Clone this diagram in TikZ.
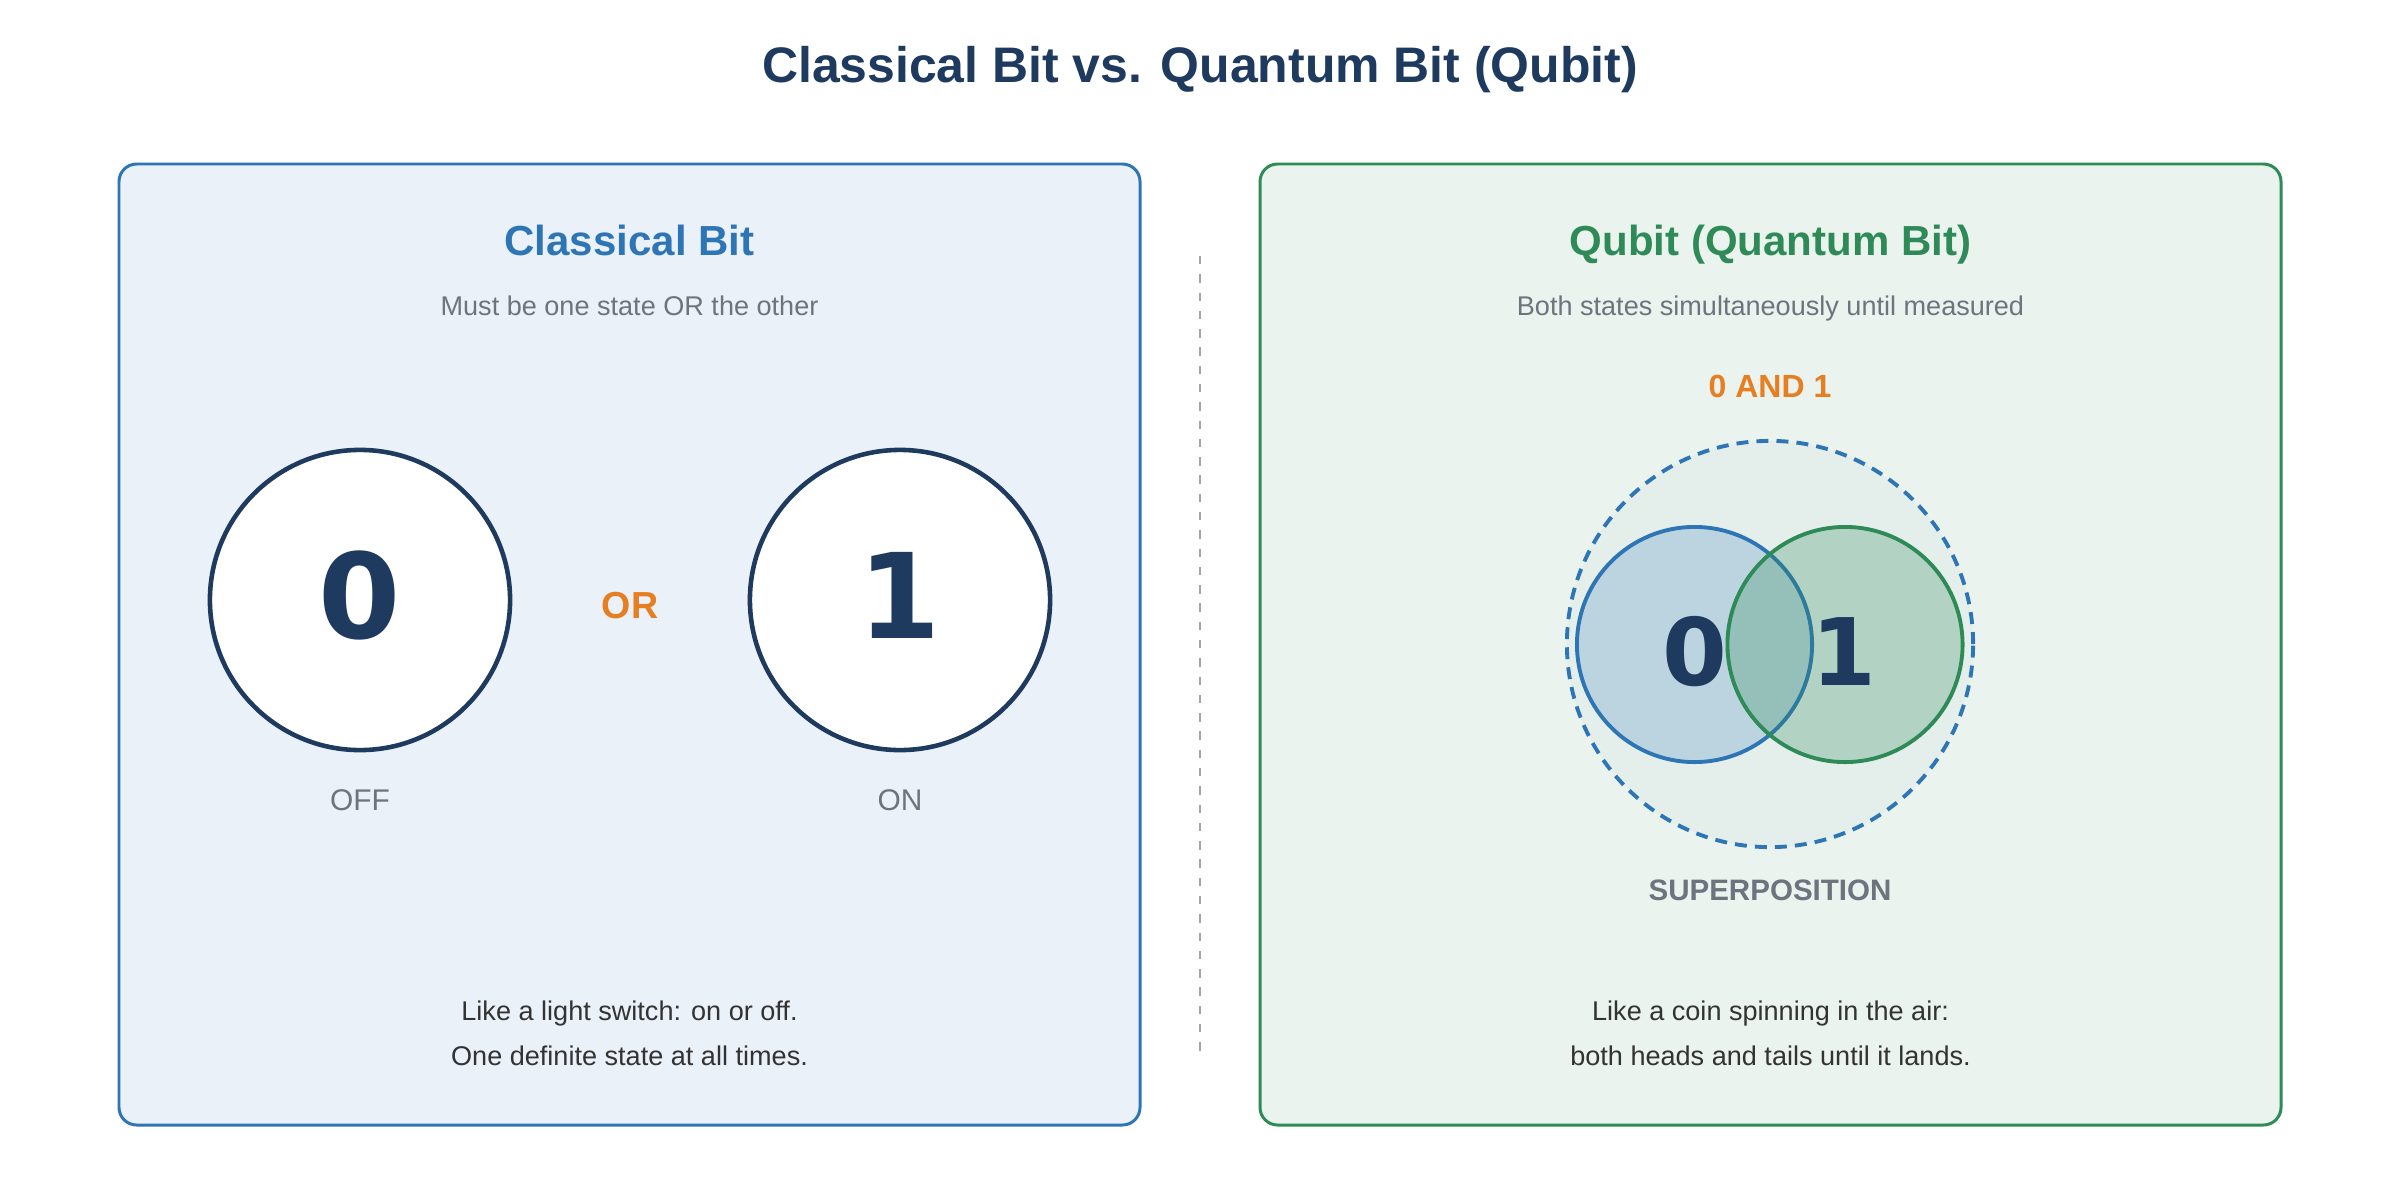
\documentclass[tikz,border=0pt]{standalone}
\usepackage{fontspec}
\setmainfont{Liberation Sans}
\newfontfamily\digitfont{DejaVu Sans}

\definecolor{navy}{RGB}{30,58,95}
\definecolor{cblue}{RGB}{46,117,182}
\definecolor{cgreen}{RGB}{46,139,87}
\definecolor{corange}{RGB}{230,126,34}
\definecolor{cgray}{RGB}{108,117,125}
\definecolor{ctext}{RGB}{51,51,51}
\definecolor{divgray}{RGB}{160,164,171}

\tikzset{
  txt/.style={inner sep=0pt, anchor=base},
  maintitle/.style={txt, font=\fontsize{14.2}{17}\selectfont\bfseries, text=navy},
  paneltitle/.style={txt, font=\fontsize{11.95}{14}\selectfont\bfseries, text=#1},
  subtext/.style={txt, font=\fontsize{7.7}{9}\selectfont, text=cgray},
  statetext/.style={txt, font=\fontsize{8.5}{10}\selectfont, text=cgray},
  notetext/.style={txt, font=\fontsize{7.7}{9}\selectfont, text=ctext},
  keyword/.style={txt, font=\fontsize{#1}{12}\selectfont\bfseries, text=corange},
  bigdigit/.style={txt, font=\digitfont\fontsize{#1}{40}\selectfont\bfseries, text=navy},
  panel/.style={draw=#1, fill=#1!10, line width=0.85pt, rounded corners=5pt},
  bitcircle/.style={circle, draw=navy, fill=white, line width=1.3pt, minimum size=3cm, inner sep=0pt},
  statecircle/.style n args={2}{circle, draw=#1, fill=#1, fill opacity=#2, draw opacity=1, line width=1.1pt, minimum size=2.35cm, inner sep=0pt}
}

\begin{document}
\begin{tikzpicture}[x=0.01cm, y=-0.01cm]
  \useasboundingbox (0,0) rectangle (2400,1200);

  % Title
  \node[maintitle] (title) at (1200,82) {Classical Bit vs. Quantum Bit (Qubit)};

  % Panels
  \draw[panel=cblue] (119,164) rectangle (1140,1125);
  \draw[panel=cgreen] (1260,164) rectangle (2281,1125);

  % Divider
  \coordinate (divtop) at (1200,256);
  \coordinate (divbot) at (1200,1056);
  \draw[divgray, line width=0.6pt, dash pattern=on 2.4pt off 2.8pt] (divtop) -- (divbot);

  % Classical bit
  \node[paneltitle=cblue] (classtitle) at (629.5,255) {Classical Bit};
  \node[subtext] (classsub) at (629.5,315) {Must be one state OR the other};

  \node[bitcircle] (bitzero) at (360,600) {};
  \node[bitcircle] (bitone) at (900,600) {};
  \node[bigdigit=33.6] (zerodigit) at (360,638) {0};
  \node[bigdigit=33.6] (onedigit) at (900,638) {1};
  \node[keyword=10.7] (orlabel) at (630,618) {OR};

  \node[statetext] (offlabel) at (360,810) {OFF};
  \node[statetext] (onlabel) at (900,810) {ON};

  \node[notetext] (classnote1) at (629.5,1020) {Like a light switch: on or off.};
  \node[notetext] (classnote2) at (629.5,1065) {One definite state at all times.};

  % Qubit
  \node[paneltitle=cgreen] (qubittitle) at (1770.5,255) {Qubit (Quantum Bit)};
  \node[subtext] (qubitsub) at (1770.5,315) {Both states simultaneously until measured};
  \node[keyword=9.1] (andlabel) at (1770,397) {0 AND 1};

  \node[circle, draw=cblue, fill=cblue, fill opacity=0.03, draw opacity=1, line width=1.1pt,
        dash pattern=on 3.4pt off 2.3pt, minimum size=4.06cm, inner sep=0pt] (superring) at (1770,644) {};
  \node[statecircle={cblue}{0.22}] (statezero) at (1694.5,644.5) {};
  \node[statecircle={cgreen}{0.27}] (stateone) at (1845,644.5) {};
  \node[bigdigit=26.5] (qzero) at (1695,685) {0};
  \node[bigdigit=26.5] (qone) at (1844,685) {1};

  \node[txt, font=\fontsize{8.4}{10}\selectfont\bfseries, text=cgray] (superlabel) at (1770,900) {SUPERPOSITION};

  \node[notetext] (qubitnote1) at (1770.5,1020) {Like a coin spinning in the air:};
  \node[notetext] (qubitnote2) at (1770.5,1065) {both heads and tails until it lands.};
\end{tikzpicture}
\end{document}
